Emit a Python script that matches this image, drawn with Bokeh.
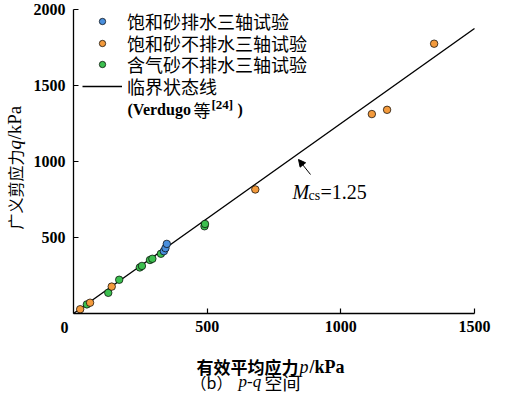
import math
from bokeh.plotting import figure
from bokeh.models import (Range1d, FixedTicker, Legend, LegendItem, Label,
                          Arrow, NormalHead)
from bokeh.embed import file_html
from bokeh.resources import INLINE

# ---------------- data ----------------
blue_p = [338, 344, 349]
blue_q = [410, 430, 458]
orange_p = [25, 62, 143, 680, 1116, 1173, 1349]
orange_q = [28, 71, 177, 816, 1312, 1340, 1775]
green_p = [50, 130, 171, 248, 256, 286, 295, 327, 490, 492]
green_q = [60, 136, 222, 303, 313, 352, 360, 393, 574, 589]
M_cs = 1.25
line_p = [0, 1500]
line_q = [M_cs * v for v in line_p]
x_lim = (0, 1500)
y_lim = (0, 2000)
x_ticks = [500, 1000, 1500]
y_ticks = [500, 1000, 1500, 2000]
series_labels = ["饱和砂排水三轴试验", "饱和砂不排水三轴试验", "含气砂不排水三轴试验"]
line_label = "临界状态线"

# ---------------- layout (canvas px) ----------------
W, H = 495, 396
AX_L, AX_R = 73, 474      # canvas x of x_lim
AX_B, AX_T = 313, 9       # canvas y of y_lim
KX = (AX_R - AX_L) / (x_lim[1] - x_lim[0])
KY = (AX_B - AX_T) / (y_lim[1] - y_lim[0])


def X(page_x):
    return x_lim[0] + (page_x - 8 - AX_L) / KX


def Y(page_y):
    return y_lim[0] + (AX_B - (page_y - 8)) / KY


SERIF = "Liberation Serif"
CJK = "Noto Sans CJK SC"
MIX = "Liberation Serif, Noto Sans CJK SC"

p = figure(width=W, height=H, output_backend="svg", toolbar_location=None,
           title=None,
           x_range=Range1d(X(8), X(8 + W)), y_range=Range1d(Y(8 + H), Y(8)),
           min_border_left=0, min_border_right=0, min_border_top=0,
           min_border_bottom=0)
p.outline_line_color = None
p.xgrid.visible = False
p.ygrid.visible = False

for ax, ticks, lim, standoff in ((p.xaxis[0], x_ticks, x_lim, 7),
                                 (p.yaxis[0], y_ticks, y_lim, 8)):
    ax.fixed_location = 0
    ax.bounds = lim
    ax.ticker = FixedTicker(ticks=ticks, minor_ticks=[])
    ax.major_tick_in = 5
    ax.major_tick_out = 0
    ax.minor_tick_in = 0
    ax.minor_tick_out = 0
    ax.axis_line_width = 1.3
    ax.major_tick_line_width = 1.2
    ax.axis_line_color = "black"
    ax.major_tick_line_color = "black"
    ax.major_label_text_font = SERIF
    ax.major_label_text_font_style = "bold"
    ax.major_label_text_font_size = "16px"
    ax.major_label_text_color = "black"
    ax.major_label_standoff = standoff

r_line = p.line(line_p, line_q, line_color="black", line_width=1.4)
mk = dict(size=7.5, line_color="black", line_width=0.7)
r_green = p.scatter(green_p, green_q, fill_color="#3cbf4f", **mk)
r_orange = p.scatter(orange_p, orange_q, fill_color="#f39a3c", **mk)
r_blue = p.scatter(blue_p, blue_q, fill_color="#4a8fdd", **mk)

# one single-row legend per entry, each placed at its own row centre
ROW_H = 30
GLYPH_H = 16
ROW_CENTERS = [29, 51, 72, 94]        # page y of each legend row
entries = [(series_labels[0], r_blue), (series_labels[1], r_orange),
           (series_labels[2], r_green), (line_label, r_line)]
for (text, rend), yc in zip(entries, ROW_CENTERS):
    top = (yc - 8) - ROW_H / 2
    lg = Legend(items=[LegendItem(label=text, renderers=[rend])],
                location=(90 - 8, H - top - ROW_H), margin=0, padding=0,
                spacing=0, glyph_width=40, glyph_height=GLYPH_H,
                label_height=ROW_H, label_standoff=5,
                label_text_font=MIX, label_text_font_size="18px",
                label_text_color="black", background_fill_alpha=0,
                border_line_alpha=0)
    p.add_layout(lg)


def lab(px, py, text, font=SERIF, size=17, style="normal", align="left",
        baseline="middle", angle=0.0):
    p.add_layout(Label(x=X(px), y=Y(py), text=text, text_font=font,
                       text_font_size=f"{size}px", text_font_style=style,
                       text_align=align, text_baseline=baseline, angle=angle,
                       text_color="black"))


# legend second line
lab(135, 117, "(Verdugo", SERIF, 16, "bold")
lab(201, 117, "等", CJK, 17)
lab(219, 112, "[24]", SERIF, 13, "bold")
lab(245, 117, ")", SERIF, 16, "bold")

# origin label
lab(72, 335, "0", SERIF, 16, "bold", align="center")

# y-axis label (rotated)
ya = math.pi / 2
lab(22, 237, "广义剪应力", CJK, 16, angle=ya)
lab(22, 157, "q", SERIF, 19, "italic", angle=ya)
lab(22, 147, "/kPa", SERIF, 19, angle=ya)

# x-axis label
lab(204, 374, "有效平均应力", CJK, 17, "bold")
lab(307, 374, "p", SERIF, 18, "italic")
lab(317, 374, "/kPa", SERIF, 18, "bold")

# caption
lab(198, 389, "（b）", CJK, 16)
lab(246, 389, "p-q", SERIF, 17, "italic")
lab(272, 389, "空间", CJK, 18)

# M_cs annotation
lab(300, 199, "M", SERIF, 20, "italic", baseline="alphabetic")
lab(316, 203, "cs", SERIF, 14, baseline="alphabetic")
lab(328, 199, "=" + str(M_cs), SERIF, 20, baseline="alphabetic")
p.add_layout(Arrow(end=NormalHead(size=7, fill_color="black", line_color="black",
                                  line_width=1),
                   x_start=X(318), y_start=Y(182), x_end=X(306), y_end=Y(167),
                   line_color="black", line_width=1))

open("out.html", "w").write(file_html(p, INLINE))
